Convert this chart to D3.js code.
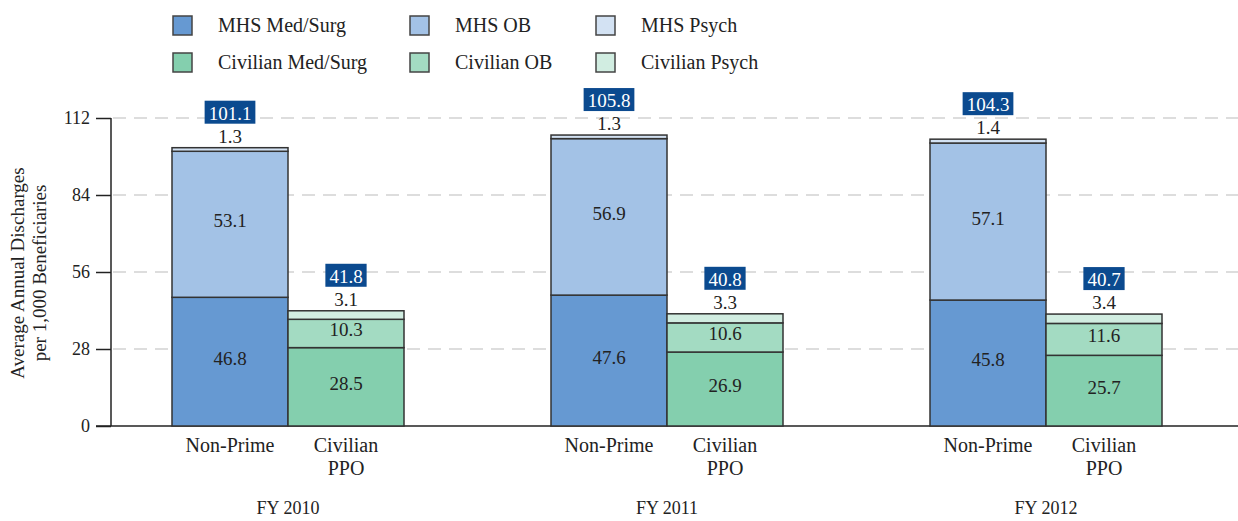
<!DOCTYPE html>
<html lang="en">
<head>
<meta charset="UTF-8">
<title>Average Annual Discharges</title>
<script src="https://d3js.org/d3.v7.min.js"></script>
<style>
body { margin: 0; background: #fff; }
text { font-family: 'Liberation Serif', 'DejaVu Serif', serif; fill: #222; }
.tick text { font-size: 18px; }
.grid line { stroke: #bbb; stroke-dasharray: 13,8; }
.seg { stroke: #333; stroke-width: 1.5; }
</style>
</head>
<body>
<svg width="1238" height="521"></svg>
<script>

var years = ["FY 2010", "FY 2011", "FY 2012"];
var plans = ["Non-Prime", "Civilian PPO"];
var yTicks = [0, 28, 56, 84, 112];

// segments bottom to top: Med/Surg, OB, Psych
var nonPrimeMedSurg = [46.8, 47.6, 45.8];
var nonPrimeOB = [53.1, 56.9, 57.1];
var nonPrimePsych = [1.3, 1.3, 1.4];
var nonPrimeTotal = [101.1, 105.8, 104.3];

var civMedSurg = [28.5, 26.9, 25.7];
var civOB = [10.3, 10.6, 11.6];
var civPsych = [3.1, 3.3, 3.4];
var civTotal = [41.8, 40.8, 40.7];

var legendNames = ["MHS Med/Surg", "MHS OB", "MHS Psych", "Civilian Med/Surg", "Civilian OB", "Civilian Psych"];
var mhsColors = ["#6699d2", "#a3c2e6", "#d3e2f3"];
var civColors = ["#84cfae", "#a3dbc2", "#d1ede1"];

var svg = d3.select("svg");

var y = d3.scaleLinear().domain([0, 112]).range([426, 118]);
var x0 = d3.scalePoint().domain(years).range([288, 1046]);
var x1 = d3.scaleBand().domain(plans).range([-116, 116]);

// gridlines
svg.append("g").attr("class", "grid")
    .selectAll("line")
    .data(yTicks.filter(function(d) { return d > 0; }))
    .enter().append("line")
    .attr("x1", 113).attr("x2", 1238)
    .attr("y1", function(d) { return y(d); })
    .attr("y2", function(d) { return y(d); });

// y axis
var yAxis = svg.append("g")
    .attr("transform", "translate(111,0)")
    .call(d3.axisLeft(y).tickValues(yTicks).tickSize(15).tickPadding(6));
yAxis.select(".domain").attr("stroke", "#222").attr("stroke-width", 1.5).attr("d", "M0," + y(112) + "V" + y(0));
yAxis.selectAll(".tick line").attr("stroke", "#222").attr("stroke-width", 1.5);
yAxis.selectAll(".tick text").attr("fill", "#222");

// x baseline
svg.append("line")
    .attr("x1", 96).attr("x2", 1238)
    .attr("y1", y(0)).attr("y2", y(0))
    .attr("stroke", "#222").attr("stroke-width", 1.5);

// y axis title
var title = svg.append("text")
    .attr("transform", "translate(24," + 273 + ") rotate(-90)")
    .attr("text-anchor", "middle")
    .style("font-size", "19px")
    .attr("fill", "#333");
title.append("tspan").attr("x", 0).attr("dy", 0).text("Average Annual Discharges");
title.append("tspan").attr("x", 0).attr("dy", 22).text("per 1,000 Beneficiaries");

function drawStack(plan, series, colors, labelColors, totals) {
    years.forEach(function(yr, i) {
        var left = x0(yr) + x1(plan);
        var w = x1.bandwidth();
        var base = 0;
        series.forEach(function(arr, k) {
            var v = arr[i];
            var top = base + v;
            svg.append("rect")
                .attr("class", "seg")
                .attr("x", left).attr("width", w)
                .attr("y", y(top)).attr("height", y(base) - y(top))
                .attr("fill", colors[k]);
            var ly;
            if (k === 2) {
                ly = y(top) - 5;
            } else {
                ly = (y(base) + y(top)) / 2 - 3 + 6;
            }
            svg.append("text")
                .attr("x", left + w / 2).attr("y", ly)
                .attr("text-anchor", "middle")
                .style("font-size", "19px")
                .attr("fill", labelColors[k])
                .text(v.toFixed(1));
            base = top;
        });
        // total box
        var cx = left + w / 2;
        var by = y(base) - 35;
        var g = svg.append("g");
        var rect = g.append("rect").attr("fill", "#0b4a8f");
        var t = g.append("text")
            .attr("x", cx).attr("y", by + 7)
            .attr("text-anchor", "middle")
            .style("font-size", "19px")
            .attr("fill", "#fff")
            .style("fill", "#fff")
            .text(totals[i].toFixed(1));
        var tw = t.node().getComputedTextLength();
        rect.attr("x", cx - tw / 2 - 4).attr("width", tw + 8)
            .attr("y", by - 12).attr("height", 23);
    });
}

drawStack("Non-Prime", [nonPrimeMedSurg, nonPrimeOB, nonPrimePsych], mhsColors, ["#fff", "#222", "#222"], nonPrimeTotal);
drawStack("Civilian PPO", [civMedSurg, civOB, civPsych], civColors, ["#222", "#222", "#222"], civTotal);

// category labels
years.forEach(function(yr) {
    svg.append("text")
        .attr("x", x0(yr) + x1("Non-Prime") + x1.bandwidth() / 2)
        .attr("y", 452)
        .attr("text-anchor", "middle")
        .style("font-size", "20px")
        .text("Non-Prime");
    var c = svg.append("text")
        .attr("x", x0(yr) + x1("Civilian PPO") + x1.bandwidth() / 2)
        .attr("y", 452)
        .attr("text-anchor", "middle")
        .style("font-size", "20px");
    c.append("tspan").text("Civilian");
    c.append("tspan").attr("x", x0(yr) + x1("Civilian PPO") + x1.bandwidth() / 2).attr("dy", 23).text("PPO");
    svg.append("text")
        .attr("x", x0(yr))
        .attr("y", 514)
        .attr("text-anchor", "middle")
        .style("font-size", "18px")
        .text(yr);
});

// legend
var legendX = [173, 410, 596];
var legendY = [16, 53];
var legendColors = mhsColors.concat(civColors);
legendNames.forEach(function(name, i) {
    var col = i % 3, row = Math.floor(i / 3);
    svg.append("rect")
        .attr("x", legendX[col]).attr("y", legendY[row])
        .attr("width", 19).attr("height", 19)
        .attr("fill", legendColors[i])
        .attr("stroke", "#444").attr("stroke-width", 1.5);
    svg.append("text")
        .attr("x", legendX[col] + 45).attr("y", legendY[row] + 16)
        .style("font-size", "20px")
        .text(name);
});

</script>
</body>
</html>
